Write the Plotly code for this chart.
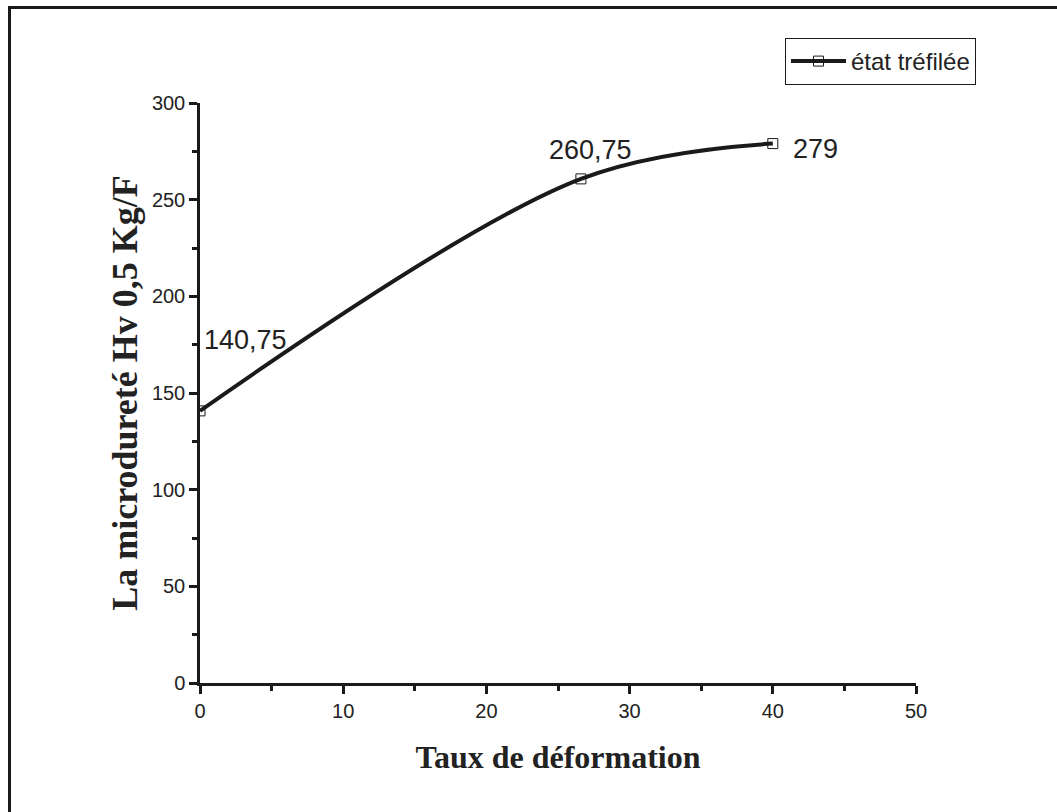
import plotly.graph_objects as go

taux = [0, 26.6, 40.0]
hv = [140.75, 260.75, 279]
labels = ["140,75", "260,75", "279"]
label_shift = [(45, 71), (10, 29), (43, -5)]

W, H = 1057, 812
L, R, T, B = 200, 916, 103, 683

fig = go.Figure()
fig.add_trace(go.Scatter(
    x=taux, y=hv, mode="lines+markers", name="état tréfilée",
    line=dict(shape="spline", color="#1a1a1a", width=4),
    marker=dict(symbol="square-open", size=10, color="#1a1a1a", line=dict(width=1)),
))

for xv, yv, t, (dx, dy) in zip(taux, hv, labels, label_shift):
    fig.add_annotation(x=xv, y=yv, text=t, showarrow=False, xshift=dx, yshift=dy,
                       font=dict(family="Liberation Sans", size=27, color="#222"))

def px2paper_x(px):
    return (px - L) / (R - L)

def px2paper_y(py):
    return (B - py) / (B - T)

# outer frame (top and left edges)
fig.add_shape(type="line", xref="paper", yref="paper",
              x0=px2paper_x(8), x1=px2paper_x(1057), y0=px2paper_y(7.5), y1=px2paper_y(7.5),
              line=dict(color="#1a1a1a", width=3))
fig.add_shape(type="line", xref="paper", yref="paper",
              x0=px2paper_x(9.5), x1=px2paper_x(9.5), y0=px2paper_y(6), y1=px2paper_y(812),
              line=dict(color="#1a1a1a", width=3))

axis_common = dict(
    showline=True, linecolor="#1a1a1a", linewidth=2.5,
    ticks="outside", ticklen=8, tickwidth=2.5, tickcolor="#1a1a1a",
    showgrid=False, zeroline=False,
    tickfont=dict(family="Liberation Sans", size=20, color="#222"),
)

fig.update_layout(
    width=W, height=H,
    margin=dict(l=L, r=W - R, t=T, b=H - B),
    plot_bgcolor="white", paper_bgcolor="white",
    xaxis=dict(range=[0, 50], dtick=10,
               minor=dict(dtick=5, ticks="outside", ticklen=5, tickwidth=2.5, tickcolor="#1a1a1a"),
               title=dict(text="<b>Taux de déformation</b>", standoff=25,
                          font=dict(family="Liberation Serif", size=32, color="#222")),
               **axis_common),
    yaxis=dict(range=[0, 300], dtick=50,
               minor=dict(dtick=25, ticks="outside", ticklen=5, tickwidth=2.5, tickcolor="#1a1a1a"),
               title=dict(text="<b>La microdureté Hv 0,5 Kg/F</b>", standoff=4,
                          font=dict(family="Liberation Serif", size=36, color="#222")),
               **axis_common),
    showlegend=True,
    legend=dict(x=px2paper_x(785), y=px2paper_y(38), xanchor="left", yanchor="top",
                bordercolor="#1a1a1a", borderwidth=1, bgcolor="white",
                font=dict(family="Liberation Sans", size=24, color="#222"),
                tracegroupgap=0, itemwidth=55),
)

fig.write_html("out.html")
